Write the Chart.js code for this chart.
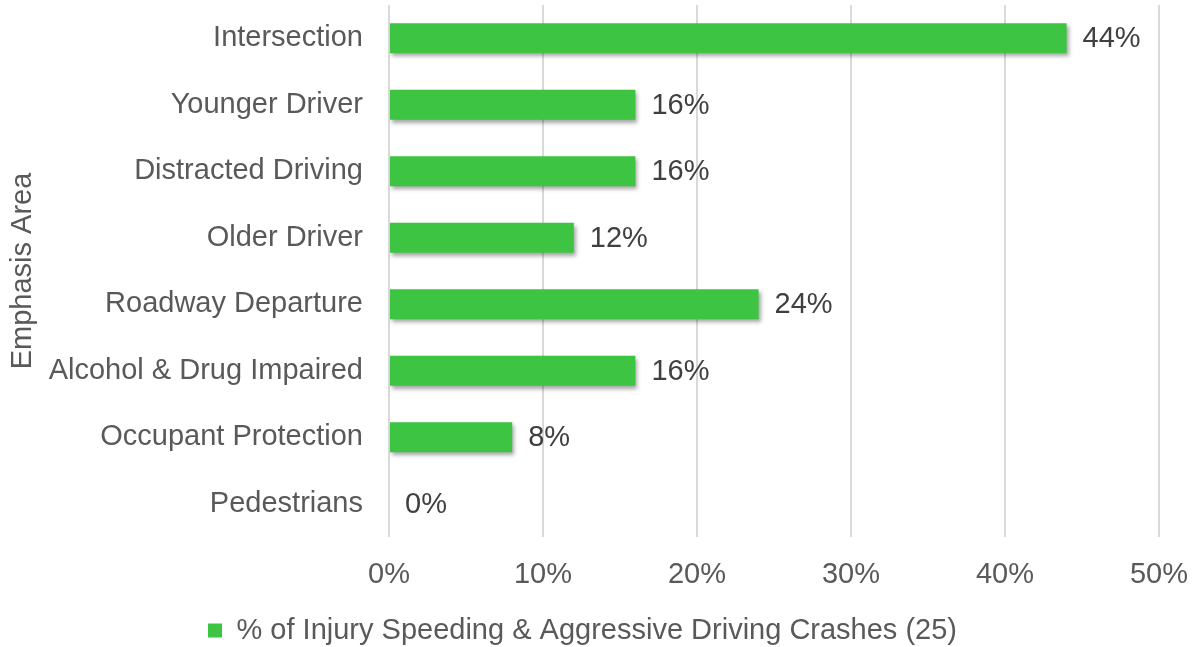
<!DOCTYPE html>
<html>
<head>
<meta charset="utf-8">
<script src="https://cdn.jsdelivr.net/npm/chart.js@4/dist/chart.umd.min.js"></script>
<style>
    body { margin: 0; background: #fff; }
    #wrap { width: 1198px; height: 647px; position: relative; }
</style>
</head>
<body>
<div id="wrap"><canvas id="areaChart"></canvas></div>
<script>
    // chart data
    let areas = ['Intersection', 'Younger Driver', 'Distracted Driving', 'Older Driver',
        'Roadway Departure', 'Alcohol & Drug Impaired', 'Occupant Protection', 'Pedestrians'];
    let shares = [44, 16, 16, 12, 24, 16, 8, 0];
    let seriesName = '% of Injury Speeding & Aggressive Driving Crashes (25)';
    let xTicks = [0, 10, 20, 30, 40, 50];

    const fontFamily = '"Liberation Sans", Arial, sans-serif';

    // drop shadow under the bars
    const barShadow = {
        id: 'barShadow',
        beforeDatasetDraw(chart) {
            let ctx = chart.ctx;
            ctx.save();
            ctx.shadowColor = 'rgba(0,0,0,0.35)';
            ctx.shadowBlur = 4;
            ctx.shadowOffsetX = 2;
            ctx.shadowOffsetY = 3;
        },
        afterDatasetDraw(chart) {
            chart.ctx.restore();
        }
    };

    // value labels at the end of each bar
    const valueLabels = {
        id: 'valueLabels',
        afterDatasetsDraw(chart) {
            let ctx = chart.ctx;
            let meta = chart.getDatasetMeta(0);
            ctx.save();
            ctx.font = '29px ' + fontFamily;
            ctx.fillStyle = '#404040';
            ctx.textAlign = 'left';
            ctx.textBaseline = 'middle';
            meta.data.forEach(function (bar, i) {
                ctx.fillText(shares[i] + '%', bar.x + 16, bar.y + 1);
            });
            ctx.restore();
        }
    };

    let ctx = document.getElementById('areaChart').getContext('2d');
    let myChart = new Chart(ctx, {
        type: 'bar',
        data: {
            labels: areas,
            datasets: [{
                label: seriesName,
                data: shares,
                backgroundColor: '#3cc442',
                borderWidth: 0,
                barPercentage: 0.45,
                categoryPercentage: 1
            }]
        },
        options: {
            indexAxis: 'y',
            responsive: true,
            maintainAspectRatio: false,
            animation: false,
            layout: {
                padding: { left: 6, right: 39, top: 5, bottom: -8 }
            },
            scales: {
                x: {
                    min: 0,
                    max: 50,
                    afterBuildTicks: function (scale) {
                        scale.ticks = xTicks.map(v => ({ value: v }));
                    },
                    afterFit: function (scale) {
                        scale.height = 75;
                        scale.paddingLeft = 0;
                        scale.paddingRight = 0;
                    },
                    ticks: {
                        color: '#595959',
                        font: { size: 29, family: fontFamily },
                        padding: 20.5,
                        callback: function (value) {
                            return value + '%';
                        }
                    },
                    grid: {
                        color: '#d9d9d9',
                        lineWidth: 2,
                        drawTicks: false
                    },
                    border: { display: false }
                },
                y: {
                    afterFit: function (scale) {
                        scale.width = 389 - 6;
                        scale.paddingTop = 0;
                        scale.paddingBottom = 0;
                    },
                    title: {
                        display: true,
                        text: 'Emphasis Area',
                        color: '#595959',
                        font: { size: 29, family: fontFamily },
                        padding: { top: 0, bottom: 0 }
                    },
                    ticks: {
                        color: '#595959',
                        font: { size: 29, family: fontFamily },
                        padding: 26
                    },
                    grid: { display: false, drawTicks: false },
                    border: { display: false }
                }
            },
            plugins: {
                legend: {
                    display: true,
                    position: 'bottom',
                    labels: {
                        color: '#595959',
                        font: { size: 29, family: fontFamily, lineHeight: 1 },
                        boxWidth: 14,
                        boxHeight: 14,
                        padding: 4
                    }
                },
                tooltip: { enabled: false }
            }
        },
        plugins: [barShadow, valueLabels]
    });
</script>
</body>
</html>
